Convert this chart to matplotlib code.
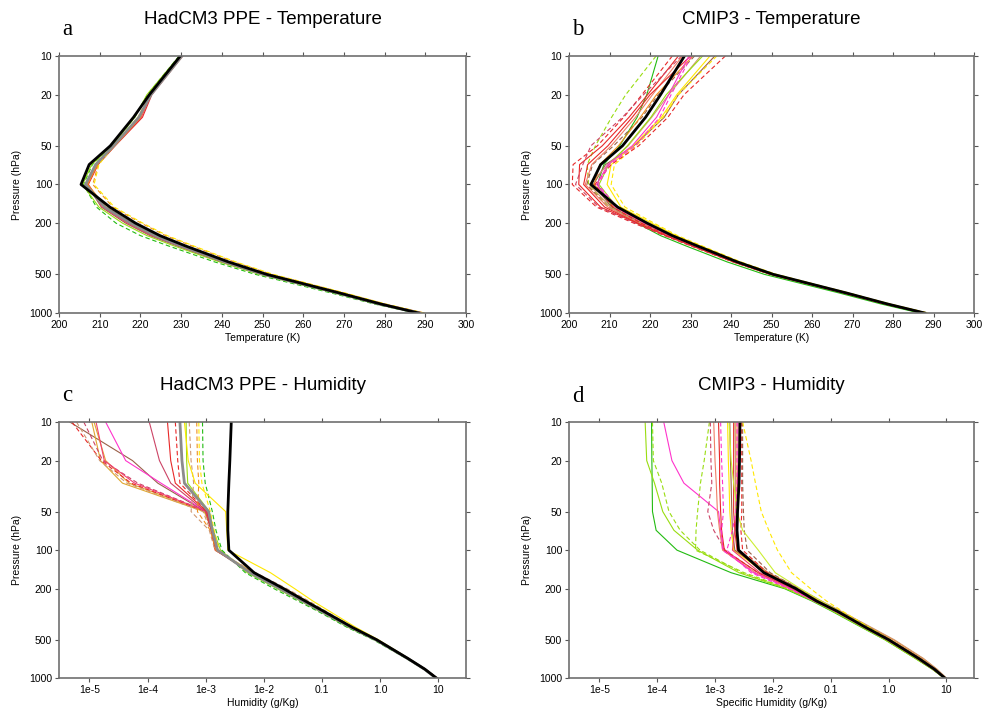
import matplotlib
matplotlib.use("Agg")
import matplotlib.pyplot as plt
from matplotlib.ticker import FixedLocator, FixedFormatter, NullLocator

plt.rcParams['font.family'] = ['Liberation Sans', 'DejaVu Sans']

# pressure levels (hPa) shared by every profile
pressure = [10, 20, 30, 50, 70, 100, 150, 200, 250, 300, 400, 500, 700, 850, 1000]
p_ticks = [10, 20, 50, 100, 200, 500, 1000]
t_ticks = [200, 210, 220, 230, 240, 250, 260, 270, 280, 290, 300]
q_ticks = [1e-5, 1e-4, 1e-3, 1e-2, 0.1, 1.0, 10]
q_labels = ['1e-5', '1e-4', '1e-3', '1e-2', '0.1', '1.0', '10']

# --- a: HadCM3 PPE temperature (K)
a_obs    = [229.8, 222.2, 218.3, 212.6, 207.4, 205.4, 212.5, 218.8, 224.8, 231.0, 241.6, 251.0, 269.0, 279.0, 288.3]
a_grey   = [230.2, 222.6, 219.6, 213.4, 209.0, 206.5, 211.2, 217.6, 223.6, 230.0, 240.8, 250.2, 268.6, 278.6, 288.6]
a_red    = [230.4, 222.8, 220.5, 213.8, 209.6, 207.2, 211.0, 217.2, 223.2, 229.8, 240.8, 250.6, 269.2, 279.4, 289.6]
a_pink   = [230.2, 222.6, 220.2, 213.6, 209.3, 207.0, 210.6, 216.8, 222.8, 229.4, 240.4, 250.2, 268.8, 279.0, 289.2]
a_yell_d = [230.0, 222.2, 219.4, 213.4, 209.8, 208.6, 213.6, 220.6, 226.6, 233.0, 243.4, 252.6, 270.4, 280.2, 289.8]
a_orng_d = [230.1, 222.3, 219.6, 213.5, 209.6, 208.3, 213.2, 220.2, 226.2, 232.6, 243.0, 252.2, 270.2, 280.0, 289.6]
a_grn_d  = [229.5, 221.7, 218.6, 213.0, 208.2, 206.0, 209.2, 214.0, 220.0, 226.8, 238.2, 248.2, 267.0, 277.4, 287.6]
a_lime   = [229.6, 221.6, 218.6, 213.0, 208.0, 205.8, 209.8, 215.6, 221.6, 228.2, 239.4, 249.2, 267.8, 278.0, 288.0]
a_brown  = [230.0, 222.4, 219.8, 213.6, 209.2, 206.8, 210.4, 216.4, 222.4, 229.0, 240.0, 249.8, 268.4, 278.6, 288.8]
a_orange = [230.1, 222.5, 220.0, 213.7, 209.4, 207.0, 211.6, 218.0, 224.0, 230.4, 241.2, 250.8, 269.0, 279.2, 289.4]

# --- b: CMIP3 temperature (K)
b_obs    = [228.5, 222.6, 218.9, 213.2, 207.8, 205.4, 212.0, 219.3, 225.5, 231.6, 241.5, 250.4, 268.6, 278.6, 287.8]
b_lime_d = [221.5, 214.0, 210.5, 206.5, 204.5, 204.8, 210.0, 218.0, 224.5, 230.6, 240.6, 249.6, 267.8, 277.8, 287.0]
b_green  = [222.0, 219.2, 216.8, 212.5, 208.6, 207.0, 210.8, 216.8, 222.6, 228.8, 239.0, 248.2, 266.8, 277.0, 286.6]
b_red_d  = [225.5, 218.0, 213.5, 207.0, 201.0, 200.8, 206.8, 216.0, 223.6, 230.0, 240.4, 249.6, 268.0, 278.0, 287.6]
b_red    = [227.0, 219.4, 214.8, 208.2, 202.6, 202.4, 207.8, 216.8, 224.0, 230.4, 240.8, 250.0, 268.2, 278.2, 287.8]
b_brown  = [236.0, 227.0, 223.5, 216.0, 209.0, 206.0, 210.5, 218.0, 224.8, 231.0, 241.2, 250.4, 268.6, 278.6, 288.0]
b_tan    = [232.5, 224.6, 220.4, 214.6, 209.6, 205.0, 210.2, 217.6, 224.4, 230.8, 241.0, 250.2, 268.4, 278.4, 287.8]
b_mag    = [229.6, 224.6, 221.6, 215.6, 209.6, 206.8, 211.4, 218.6, 225.0, 231.2, 241.2, 250.2, 268.4, 278.4, 287.8]
b_mag_d  = [230.2, 225.2, 222.4, 216.4, 210.0, 207.2, 211.8, 218.8, 225.2, 231.4, 241.4, 250.4, 268.4, 278.4, 287.8]
b_yell   = [234.8, 226.6, 222.8, 215.8, 210.4, 209.4, 212.8, 220.4, 226.4, 232.4, 242.0, 250.8, 269.0, 279.0, 288.4]
b_yell_d = [236.5, 227.0, 223.2, 216.6, 211.2, 210.4, 213.8, 221.0, 226.8, 232.8, 242.4, 251.2, 269.2, 279.2, 288.6]
b_red_d2 = [238.6, 228.4, 224.4, 217.2, 210.4, 206.4, 210.8, 217.8, 224.6, 230.8, 241.0, 250.2, 268.4, 278.4, 288.0]
b_brn_d  = [231.0, 222.0, 218.0, 211.0, 205.8, 204.4, 209.6, 217.4, 224.4, 230.8, 241.0, 250.2, 268.4, 278.4, 288.0]
b_orange = [230.6, 221.6, 217.6, 212.2, 207.6, 206.2, 211.2, 218.4, 225.0, 231.2, 241.4, 250.4, 268.6, 278.6, 288.2]
b_salmon = [228.0, 220.6, 216.4, 210.4, 205.6, 204.0, 209.6, 217.2, 224.2, 230.6, 240.8, 250.0, 268.2, 278.2, 287.8]
b_red2   = [230.0, 220.0, 215.6, 209.6, 204.6, 203.6, 208.8, 217.0, 224.0, 230.4, 240.6, 249.8, 268.0, 278.0, 287.6]
b_lime   = [233.0, 224.0, 220.2, 214.4, 209.8, 207.4, 211.8, 219.2, 225.6, 231.8, 241.8, 250.8, 268.8, 278.8, 288.2]
b_red_d3 = [227.8, 218.4, 213.2, 205.4, 203.4, 201.6, 207.4, 216.4, 223.8, 230.2, 240.6, 249.8, 268.0, 278.0, 287.6]

# --- c: HadCM3 PPE humidity (g/kg)
c_obs    = [2.75e-3, 2.6e-3, 2.5e-3, 2.4e-3, 2.4e-3, 2.5e-3, 6.8e-3, 0.022, 0.052, 0.107, 0.33, 0.87, 3.0, 5.9, 9.4]
c_grey   = [3.6e-4, 3.9e-4, 4.3e-4, 1.12e-3, 1.3e-3, 1.6e-3, 5.8e-3, 0.019, 0.047, 0.098, 0.31, 0.84, 2.95, 5.8, 9.2]
c_yell   = [4.3e-4, 5.0e-4, 6.6e-4, 2.2e-3, 2.3e-3, 2.4e-3, 0.013, 0.034, 0.070, 0.135, 0.38, 0.93, 3.1, 6.0, 9.5]
c_grn_d  = [8.8e-4, 9.0e-4, 9.8e-4, 1.3e-3, 1.5e-3, 1.9e-3, 4.8e-3, 0.015, 0.039, 0.085, 0.27, 0.76, 2.8, 5.6, 9.0]
c_yell_d = [7.6e-4, 7.8e-4, 8.6e-4, 1.2e-3, 1.4e-3, 1.7e-3, 6.2e-3, 0.021, 0.051, 0.104, 0.32, 0.85, 2.95, 5.9, 9.3]
c_lime   = [4.6e-4, 4.7e-4, 4.9e-4, 1.15e-3, 1.35e-3, 1.8e-3, 5.2e-3, 0.017, 0.043, 0.090, 0.28, 0.79, 2.85, 5.7, 9.1]
c_brn_d  = [5.2e-4, 5.6e-4, 6.2e-4, 5.6e-4, 1.15e-3, 1.45e-3, 7.2e-3, 0.025, 0.060, 0.118, 0.35, 0.90, 3.05, 6.0, 9.6]
c_orng_d = [7.0e-4, 7.2e-4, 7.6e-4, 7.2e-4, 1.2e-3, 1.5e-3, 6.6e-3, 0.023, 0.055, 0.110, 0.33, 0.87, 3.0, 6.0, 9.5]
c_red    = [2.2e-4, 2.5e-4, 3.0e-4, 1.05e-3, 1.25e-3, 1.45e-3, 6.2e-3, 0.021, 0.051, 0.104, 0.32, 0.86, 3.0, 6.0, 9.6]
c_red_d  = [3.0e-4, 3.3e-4, 3.6e-4, 1.05e-3, 1.3e-3, 1.55e-3, 6.0e-3, 0.020, 0.050, 0.101, 0.31, 0.85, 3.0, 5.9, 9.5]
c_rose   = [1.07e-4, 1.6e-4, 2.5e-4, 1.0e-3, 1.25e-3, 1.5e-3, 6.4e-3, 0.021, 0.051, 0.103, 0.32, 0.86, 3.0, 5.9, 9.4]
c_mag    = [1.9e-5, 4.2e-5, 1.7e-4, 1.02e-3, 1.3e-3, 1.55e-3, 6.0e-3, 0.020, 0.049, 0.100, 0.31, 0.84, 2.95, 5.9, 9.4]
c_brown  = [4.6e-6, 5.5e-5, 1.5e-4, 9.8e-4, 1.25e-3, 1.5e-3, 6.2e-3, 0.021, 0.050, 0.102, 0.31, 0.85, 3.0, 5.9, 9.5]
c_gold   = [1.1e-5, 1.55e-5, 3.7e-5, 9.4e-4, 1.3e-3, 1.55e-3, 6.2e-3, 0.021, 0.052, 0.105, 0.32, 0.87, 3.0, 6.0, 9.6]
c_gold2  = [1.2e-5, 1.9e-5, 4.8e-5, 1.0e-3, 1.3e-3, 1.5e-3, 5.8e-3, 0.020, 0.049, 0.100, 0.31, 0.84, 2.95, 5.9, 9.4]
c_red_d2 = [5.0e-6, 1.6e-5, 5.2e-5, 1.0e-3, 1.25e-3, 1.5e-3, 6.0e-3, 0.020, 0.050, 0.102, 0.31, 0.85, 3.0, 6.0, 9.6]
c_pink_d = [8.0e-6, 1.7e-5, 6.8e-5, 1.05e-3, 1.3e-3, 1.55e-3, 6.1e-3, 0.020, 0.050, 0.101, 0.31, 0.85, 3.0, 5.9, 9.4]
c_tan_d  = [6.0e-6, 1.5e-5, 4.4e-5, 9.0e-4, 1.2e-3, 1.45e-3, 6.3e-3, 0.022, 0.053, 0.107, 0.33, 0.87, 3.05, 6.0, 9.6]
c_pink   = [1.3e-5, 1.8e-5, 6.0e-5, 1.05e-3, 1.3e-3, 1.6e-3, 5.9e-3, 0.020, 0.049, 0.100, 0.31, 0.84, 2.95, 5.9, 9.4]

# --- d: CMIP3 specific humidity (g/kg)
d_obs    = [2.7e-3, 2.65e-3, 2.6e-3, 2.45e-3, 2.4e-3, 2.55e-3, 7.0e-3, 0.025, 0.057, 0.13, 0.40, 1.0, 3.3, 6.2, 9.5]
d_green  = [8.0e-5, 8.1e-5, 8.2e-5, 8.3e-5, 9.6e-5, 2.2e-4, 1.9e-3, 0.016, 0.048, 0.105, 0.34, 0.86, 2.9, 5.7, 9.2]
d_lime   = [6.2e-5, 6.6e-5, 9.0e-5, 1.25e-4, 1.95e-4, 5.0e-4, 2.6e-3, 0.017, 0.050, 0.110, 0.35, 0.87, 2.9, 5.7, 9.2]
d_grn_d  = [8.3e-5, 8.6e-5, 1.2e-4, 1.6e-4, 2.5e-4, 5.5e-4, 2.9e-3, 0.018, 0.051, 0.110, 0.36, 0.89, 3.0, 5.8, 9.3]
d_lime_d = [8.0e-4, 6.5e-4, 5.6e-4, 5.0e-4, 4.7e-4, 4.6e-4, 3.2e-3, 0.019, 0.052, 0.115, 0.37, 0.91, 3.1, 5.9, 9.3]
d_mag    = [1.3e-4, 1.8e-4, 2.9e-4, 1.15e-3, 1.25e-3, 1.4e-3, 4.6e-3, 0.021, 0.055, 0.120, 0.38, 0.95, 3.2, 6.0, 9.4]
d_brn_d  = [8.3e-4, 8.5e-4, 8.8e-4, 7.5e-4, 9.5e-4, 1.5e-3, 5.5e-3, 0.022, 0.057, 0.125, 0.39, 0.97, 3.3, 6.1, 9.5]
d_salmon = [9.5e-4, 1.0e-3, 1.05e-3, 1.1e-3, 1.2e-3, 1.35e-3, 5.0e-3, 0.022, 0.058, 0.130, 0.41, 1.0, 3.4, 6.3, 9.6]
d_red    = [1.15e-3, 1.2e-3, 1.2e-3, 1.25e-3, 1.3e-3, 1.45e-3, 5.6e-3, 0.023, 0.058, 0.130, 0.41, 1.0, 3.3, 6.2, 9.6]
d_pink_d = [1.25e-3, 1.3e-3, 1.35e-3, 1.4e-3, 1.3e-3, 1.35e-3, 4.8e-3, 0.020, 0.053, 0.120, 0.38, 0.95, 3.2, 6.0, 9.4]
d_yell   = [1.65e-3, 1.7e-3, 1.75e-3, 1.8e-3, 1.9e-3, 2.1e-3, 7.2e-3, 0.025, 0.060, 0.130, 0.42, 1.02, 3.4, 6.3, 9.7]
d_brown  = [1.8e-3, 1.85e-3, 1.9e-3, 1.95e-3, 2.0e-3, 2.2e-3, 7.8e-3, 0.027, 0.065, 0.140, 0.45, 1.08, 3.6, 6.5, 9.8]
d_red2   = [2.1e-3, 2.1e-3, 2.1e-3, 2.1e-3, 2.2e-3, 2.4e-3, 7.0e-3, 0.025, 0.062, 0.135, 0.43, 1.04, 3.4, 6.3, 9.7]
d_orange = [2.3e-3, 2.3e-3, 2.3e-3, 2.3e-3, 2.3e-3, 2.5e-3, 8.0e-3, 0.028, 0.068, 0.150, 0.48, 1.20, 3.9, 6.8, 9.9]
d_tan    = [2.2e-3, 2.25e-3, 2.25e-3, 2.3e-3, 2.35e-3, 2.6e-3, 8.4e-3, 0.029, 0.070, 0.150, 0.50, 1.25, 4.0, 6.9, 10.0]
d_pink   = [2.5e-3, 2.5e-3, 2.45e-3, 2.4e-3, 2.2e-3, 2.0e-3, 6.0e-3, 0.022, 0.056, 0.125, 0.40, 0.97, 3.2, 6.0, 9.5]
d_red_d  = [2.9e-3, 2.9e-3, 2.9e-3, 2.9e-3, 2.8e-3, 3.0e-3, 8.0e-3, 0.026, 0.062, 0.135, 0.43, 1.02, 3.4, 6.3, 9.7]
d_brn_d2 = [3.0e-3, 3.0e-3, 3.0e-3, 3.1e-3, 3.2e-3, 3.6e-3, 9.0e-3, 0.028, 0.066, 0.140, 0.45, 1.06, 3.5, 6.4, 9.7]
d_yell_d = [3.0e-3, 4.2e-3, 5.0e-3, 6.3e-3, 8.5e-3, 1.2e-2, 0.021, 0.045, 0.085, 0.160, 0.46, 1.05, 3.4, 6.3, 9.6]
d_yg     = [1.75e-3, 1.9e-3, 2.1e-3, 2.4e-3, 3.0e-3, 5.6e-3, 0.011, 0.030, 0.068, 0.140, 0.44, 1.0, 3.2, 6.0, 9.4]
d_pink_d2 = [2.4e-3, 2.4e-3, 2.4e-3, 2.3e-3, 2.0e-3, 1.6e-3, 4.2e-3, 0.019, 0.052, 0.120, 0.38, 0.94, 3.1, 5.9, 9.3]

# colours and line styles
RED, PINK, MAG, ROSE = '#e82828', '#f04070', '#ff33cc', '#cc4466'
YELL, GOLD, ORNG = '#ffe800', '#e0a830', '#f09020'
GREEN, LIME, YG = '#22bb11', '#99dd11', '#ccee33'
BROWN, TAN, SALMON, GREY = '#9a6048', '#d09870', '#f08068', '#8c8c8c'
S, D = '-', (0, (4, 2.5))

panel_a = [(a_grn_d, GREEN, D), (a_lime, LIME, S), (a_brown, BROWN, S), (a_pink, PINK, S),
           (a_red, RED, S), (a_orange, ORNG, S), (a_orng_d, ORNG, D), (a_yell_d, YELL, D)]
panel_b = [(b_lime_d, LIME, D), (b_green, GREEN, S), (b_red_d, RED, D), (b_red, RED, S),
           (b_red_d3, ROSE, D), (b_brown, BROWN, S), (b_tan, TAN, S), (b_brn_d, BROWN, D),
           (b_salmon, SALMON, S), (b_red2, RED, S), (b_orange, ORNG, S), (b_lime, LIME, S),
           (b_yell, YELL, S), (b_yell_d, YELL, D), (b_red_d2, RED, D), (b_mag, MAG, S),
           (b_mag_d, MAG, D)]
panel_c = [(c_brown, BROWN, S), (c_gold, GOLD, S), (c_gold2, GOLD, S), (c_red_d2, RED, D),
           (c_pink_d, ROSE, D), (c_tan_d, TAN, D), (c_pink, PINK, S), (c_mag, MAG, S),
           (c_rose, ROSE, S), (c_red, RED, S), (c_red_d, RED, D), (c_lime, LIME, S),
           (c_brn_d, TAN, D), (c_orng_d, ORNG, D), (c_yell_d, YELL, D), (c_grn_d, GREEN, D),
           (c_yell, YELL, S)]
panel_d = [(d_green, GREEN, S), (d_lime, LIME, S), (d_grn_d, LIME, D), (d_lime_d, LIME, D),
           (d_mag, MAG, S), (d_brn_d, ROSE, D), (d_salmon, SALMON, S), (d_red, RED, S),
           (d_pink_d, MAG, D), (d_yell, YELL, S), (d_brown, BROWN, S), (d_red2, RED, S),
           (d_orange, ORNG, S), (d_tan, TAN, S), (d_pink, PINK, S), (d_red_d, RED, D),
           (d_brn_d2, BROWN, D), (d_yell_d, YELL, D), (d_yg, YG, S), (d_pink_d2, MAG, D)]


def setup(ax, humidity, xlabel):
    ax.set_yscale('log')
    ax.set_ylim(1000, 10)
    ax.yaxis.set_major_locator(FixedLocator(p_ticks))
    ax.yaxis.set_major_formatter(FixedFormatter([str(p) for p in p_ticks]))
    ax.yaxis.set_minor_locator(NullLocator())
    if humidity:
        ax.set_xscale('log')
        ax.set_xlim(3.0e-6, 30)
        ax.xaxis.set_major_locator(FixedLocator(q_ticks))
        ax.xaxis.set_major_formatter(FixedFormatter(q_labels))
        ax.xaxis.set_minor_locator(NullLocator())
    else:
        ax.set_xlim(200, 300)
        ax.set_xticks(t_ticks)
    ax.tick_params(direction='out', length=3, width=0.8, color='#555555', pad=2,
                   labelsize=7.5, top=True, right=True)
    for sp in ax.spines.values():
        sp.set_color('#707070')
        sp.set_linewidth(1.2)
    ax.set_ylabel('Pressure (hPa)', fontsize=7.5, labelpad=5)
    ax.set_xlabel(xlabel, fontsize=7.5, labelpad=2)


def draw(ax, members, obs, grey=None):
    for vals, col, ls in members:
        ax.plot(vals, pressure, color=col, linestyle=ls, linewidth=0.8)
    if grey is not None:
        ax.plot(grey, pressure, color=GREY, linewidth=2.0)
    ax.plot(obs, pressure, color='black', linewidth=2.0)


fig = plt.figure(figsize=(9.84, 7.13), dpi=100)
ax_a = fig.add_axes([0.060, 0.561, 0.4136, 0.3605])
ax_b = fig.add_axes([0.5783, 0.561, 0.4116, 0.3605])
ax_c = fig.add_axes([0.060, 0.0487, 0.4136, 0.3594])
ax_d = fig.add_axes([0.5783, 0.0487, 0.4116, 0.3594])

draw(ax_a, panel_a, a_obs, a_grey)
draw(ax_b, panel_b, b_obs)
draw(ax_c, panel_c, c_obs, c_grey)
draw(ax_d, panel_d, d_obs)

setup(ax_a, False, 'Temperature (K)')
setup(ax_b, False, 'Temperature (K)')
setup(ax_c, True, 'Humidity (g/Kg)')
setup(ax_d, True, 'Specific Humidity (g/Kg)')

titles = [(ax_a, 'HadCM3 PPE - Temperature', 'a', 0.972, 0.951),
          (ax_b, 'CMIP3 - Temperature', 'b', 0.972, 0.951),
          (ax_c, 'HadCM3 PPE - Humidity', 'c', 0.459, 0.438),
          (ax_d, 'CMIP3 - Humidity', 'd', 0.459, 0.4366)]
for ax, title, letter, ty, ly in titles:
    box = ax.get_position()
    fig.text(box.x0 + box.width / 2, ty, title, ha='center', va='center', fontsize=13.5)
    fig.text(box.x0 + 0.003, ly, letter, ha='left', va='baseline', fontsize=16.5,
             family=['Liberation Serif', 'DejaVu Serif'])

fig.savefig('out.png', dpi=100)
